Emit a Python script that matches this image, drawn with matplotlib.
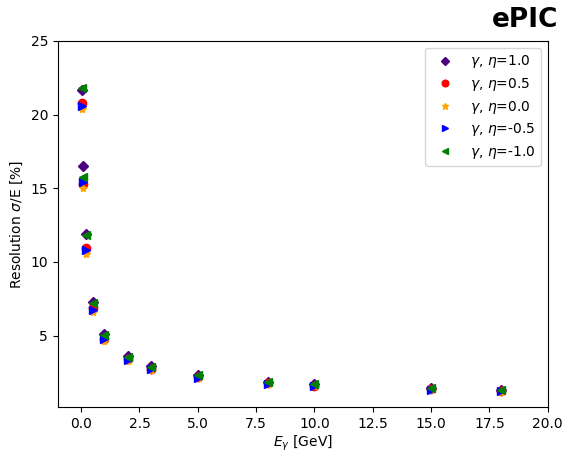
import numpy as np
import matplotlib
matplotlib.use('Agg')
import matplotlib.pyplot as plt

energy = [0.05, 0.1, 0.2, 0.5, 1.0, 2.0, 3.0, 5.0, 8.0, 10.0, 15.0, 18.0]

# resolution [%] per eta
res_eta_p10 = [21.65, 16.5, 11.9, 7.3, 5.1, 3.6, 2.95, 2.3, 1.85, 1.70, 1.42, 1.30]
res_eta_p05 = [20.8, 15.3, 10.95, 6.85, 4.8, 3.4, 2.75, 2.2, 1.75, 1.60, 1.35, 1.25]
res_eta_00 = [20.4, 15.0, 10.55, 6.6, 4.65, 3.25, 2.65, 2.1, 1.68, 1.55, 1.30, 1.20]
res_eta_m05 = [20.6, 15.4, 10.8, 6.75, 4.75, 3.35, 2.7, 2.15, 1.72, 1.57, 1.32, 1.22]
res_eta_m10 = [21.8, 15.8, 11.8, 7.2, 5.05, 3.55, 2.9, 2.3, 1.85, 1.68, 1.42, 1.30]

fig = plt.figure(figsize=(5.67, 4.53), dpi=100)
ax = fig.add_axes([0.102, 0.1015, 0.864, 0.808])

ax.plot(energy, res_eta_p10, linestyle='none', marker='D', color='indigo', markersize=5.5, label=r'$\gamma$, $\eta$=1.0')
ax.plot(energy, res_eta_p05, linestyle='none', marker='o', color='red', markersize=6, label=r'$\gamma$, $\eta$=0.5')
ax.plot(energy, res_eta_00, linestyle='none', marker='*', color='orange', markersize=6, label=r'$\gamma$, $\eta$=0.0')
ax.plot(energy, res_eta_m05, linestyle='none', marker='>', color='blue', markersize=6, label=r'$\gamma$, $\eta$=-0.5')
ax.plot(energy, res_eta_m10, linestyle='none', marker='<', color='green', markersize=6, label=r'$\gamma$, $\eta$=-1.0')

ax.set_xlim(-1, 20)
ax.set_ylim(0.15, 25)
ax.set_xlabel(r'$E_{\gamma}$ [GeV]', labelpad=2)
ax.set_ylabel(r'Resolution $\sigma$/E [%]')
ax.legend(loc='upper right', markerscale=0.8, labelspacing=0.4)

fig.text(0.985, 0.955, 'ePIC', fontsize=19, fontweight='bold', ha='right', va='center')

fig.savefig('out.png', dpi=100)
